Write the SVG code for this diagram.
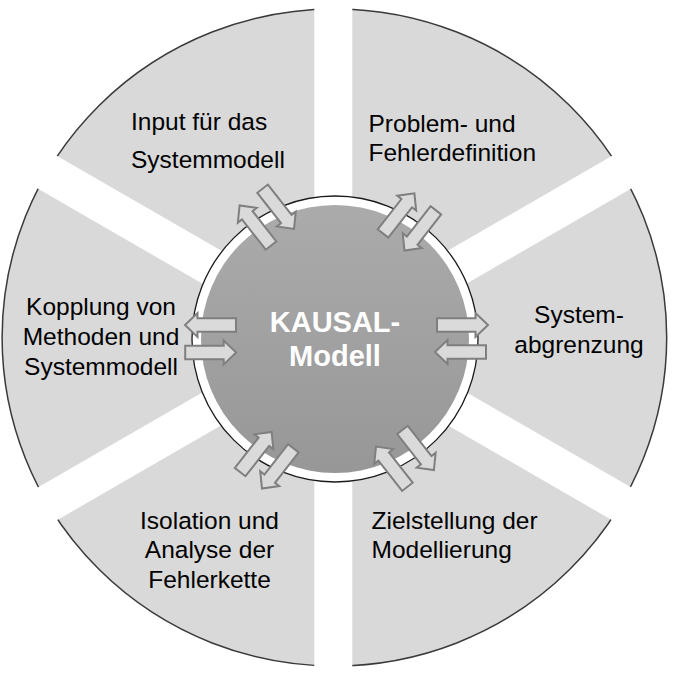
<svg xmlns="http://www.w3.org/2000/svg" xmlns:xlink="http://www.w3.org/1999/xlink" width="685" height="677" viewBox="0 0 685 677">
  <style>
    .lbl { font-family: "Liberation Sans", Arial, sans-serif; font-size: 24.5px; fill: #000000; }
    .ctr { font-family: "Liberation Sans", Arial, sans-serif; font-size: 29px; font-weight: bold; fill: #ffffff; text-anchor: middle; }
    .mid { text-anchor: middle; }
    .arrow { fill: #dadada; stroke: #7f7f7f; stroke-width: 2; stroke-linejoin: miter; }
  </style>
  <defs>
    <radialGradient id="gapGrad" gradientUnits="userSpaceOnUse" cx="334.5" cy="338" r="340">
      <stop offset="0.42" stop-color="#d9d9d9"/>
      <stop offset="0.55" stop-color="#ececec"/>
      <stop offset="0.70" stop-color="#ffffff"/>
      <stop offset="1" stop-color="#ffffff"/>
    </radialGradient>
    <linearGradient id="coreGrad" x1="0" y1="0" x2="0" y2="1">
      <stop offset="0" stop-color="#ababab"/>
      <stop offset="1" stop-color="#979797"/>
    </linearGradient>
    <polygon id="arr" class="arrow" points="-25.5,-6.7 13,-6.7 13,-12 25.5,0 13,12 13,6.7 -25.5,6.7"/>
  </defs>

  <g id="ring">
    <ellipse cx="334.4" cy="337.5" rx="332.3" ry="328.5" fill="#d9d9d9" stroke="#3a3a3a" stroke-width="1.5"/>
    <g id="gaps" fill="url(#gapGrad)">
      <rect x="-400" y="-19" width="800" height="38" transform="translate(333.3,338) rotate(90)"/>
      <rect x="-400" y="-19" width="800" height="38" transform="translate(334.5,338) rotate(30)"/>
      <rect x="-400" y="-19" width="800" height="38" transform="translate(334.5,338) rotate(-30)"/>
    </g>
  </g>

  <g id="node-center">
    <circle cx="335" cy="339" r="143" fill="#ffffff" stroke="#1a1a1a" stroke-width="1.3"/>
    <circle cx="335" cy="339" r="134" fill="url(#coreGrad)"/>
    <text class="ctr" x="335" y="332">KAUSAL-</text>
    <text class="ctr" x="335" y="366">Modell</text>
  </g>

  <g id="connectors">
    <use xlink:href="#arr" transform="translate(462.5,325) rotate(0)"/>
    <use xlink:href="#arr" transform="translate(460.5,352) rotate(180)"/>
    <use xlink:href="#arr" transform="translate(210.5,325) rotate(180)"/>
    <use xlink:href="#arr" transform="translate(210.7,352.5) rotate(0)"/>
    <use xlink:href="#arr" transform="translate(255.3,225.5) rotate(-128)"/>
    <use xlink:href="#arr" transform="translate(278.3,208.8) rotate(52)"/>
    <use xlink:href="#arr" transform="translate(398.7,213.4) rotate(-52)"/>
    <use xlink:href="#arr" transform="translate(420.2,230.4) rotate(128)"/>
    <use xlink:href="#arr" transform="translate(255.9,452) rotate(-52)"/>
    <use xlink:href="#arr" transform="translate(277.7,468.4) rotate(128)"/>
    <use xlink:href="#arr" transform="translate(391.7,466.7) rotate(-128)"/>
    <use xlink:href="#arr" transform="translate(418.2,450) rotate(52)"/>
  </g>

  <g id="node-input">
    <text class="lbl" x="131" y="129.5">Input für das</text>
    <text class="lbl" x="131" y="167.5">Systemmodell</text>
  </g>
  <g id="node-problem">
    <text class="lbl" x="368.5" y="131.5">Problem- und</text>
    <text class="lbl" x="368.5" y="160.5">Fehlerdefinition</text>
  </g>
  <g id="node-system">
    <text class="lbl mid" x="579" y="323">System-</text>
    <text class="lbl mid" x="579" y="353">abgrenzung</text>
  </g>
  <g id="node-ziel">
    <text class="lbl" x="371.5" y="528.5">Zielstellung der</text>
    <text class="lbl" x="371.5" y="558">Modellierung</text>
  </g>
  <g id="node-isolation">
    <text class="lbl mid" x="209.5" y="528.5">Isolation und</text>
    <text class="lbl mid" x="209.5" y="558">Analyse der</text>
    <text class="lbl mid" x="209.5" y="588">Fehlerkette</text>
  </g>
  <g id="node-kopplung">
    <text class="lbl mid" x="101" y="315">Kopplung von</text>
    <text class="lbl mid" x="101" y="345">Methoden und</text>
    <text class="lbl mid" x="101" y="375">Systemmodell</text>
  </g>
</svg>
